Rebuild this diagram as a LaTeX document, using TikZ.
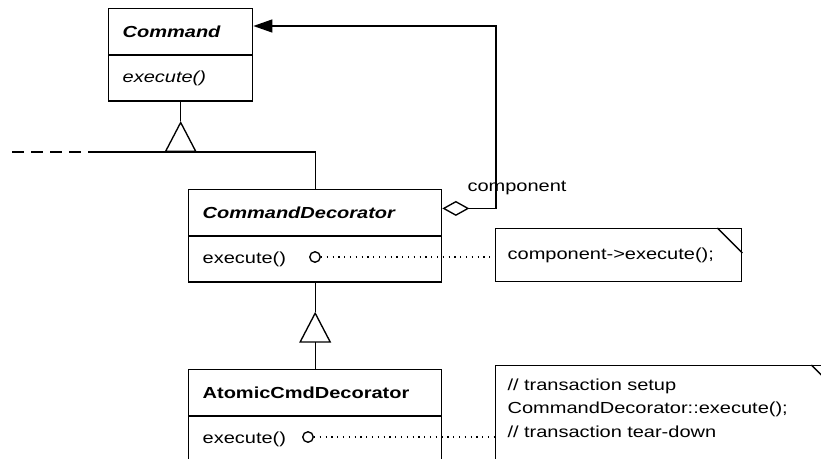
\documentclass[tikz,border=0pt]{standalone}
\usepackage{fontspec}
\setmainfont{Liberation Sans}[FakeStretch=1.25]
\usetikzlibrary{arrows.meta}

\tikzset{
    classpart/.style={draw, inner xsep=14pt, inner ysep=0pt,
        minimum height=45.5pt, text width=#1, align=left},
    notebox/.style={draw, inner xsep=12pt, text width=#1, align=left,
        anchor=north west},
    pin/.style={circle, draw, inner sep=0pt, minimum size=10.5pt},
    inherit/.style={-{Triangle[open, length=31pt, width=32pt]}},
    aggregate/.style={{Diamond[open, length=27pt, width=15pt]}-{Triangle[length=19pt, width=13pt]}},
    annot/.style={line width=1.1pt, dash pattern=on 1.3pt off 4.5pt}
}

\begin{document}
\begin{tikzpicture}[x=1pt, y=-1pt, line width=1.35pt,
    font=\fontsize{16}{23.5}\selectfont]
    % Page frame, whatever runs past it is cut off
    \useasboundingbox (0,0) rectangle (821,458);
    \clip (0,0) rectangle (821,458);

    % Command (abstract)
    \node[classpart=116pt, anchor=north west] (cmdhead) at (108,8) {\textbf{\textit{Command}}};
    \node[classpart=116pt, anchor=north] (cmdbody) at (cmdhead.south) {\textit{execute()}};

    % CommandDecorator (abstract)
    \node[classpart=225pt, anchor=north west] (decohead) at (188,189) {\textbf{\textit{CommandDecorator}}};
    \node[classpart=225pt, anchor=north] (decobody) at (decohead.south) {execute()};

    % AtomicCmdDecorator
    \node[classpart=225pt, anchor=north west] (atomhead) at (188,369) {\textbf{AtomicCmdDecorator}};
    \node[classpart=225pt, anchor=north] (atombody) at (atomhead.south) {execute()};

    % Notes with a folded corner
    \node[notebox=222pt, minimum height=53pt] (note1) at (495,228) {component->execute();};
    \draw ([xshift=-25pt]note1.north east) -- ([yshift=-25pt]note1.north east);

    \node[notebox=316pt, inner ysep=13pt, text depth=80pt] (note2) at (495,365)
        {// transaction setup\\ CommandDecorator::execute();\\ // transaction tear-down};
    \draw ([xshift=-25pt]note2.north east) -- ([yshift=-25pt]note2.north east);

    % CommandDecorator is a Command
    \coordinate (stub) at (88,152);
    \coordinate (loose) at (12,152);
    \coordinate (hub1) at (cmdbody.south |- stub);
    \coordinate (apex1) at ([yshift=31pt]hub1);
    \draw (decohead.north) |- (stub);
    \draw[dash pattern=on 12pt off 7pt] (loose) -- (stub);
    \draw[inherit] (hub1) -- (apex1);
    \draw (apex1) -- (cmdbody.south);

    % AtomicCmdDecorator is a CommandDecorator
    \coordinate (apex2) at ([yshift=-29pt]decobody.south);
    \coordinate (hub2) at ([yshift=-62pt]decobody.south);
    \draw (decobody.south) -- (apex2);
    \draw[inherit] (hub2) -- (apex2);
    \draw (hub2) -- (atomhead.north);

    % component: wrapped Command
    \coordinate (bend) at (496,26);
    \draw[aggregate] ([yshift=4pt]decohead.east) -| (bend) -- (cmdhead.east |- bend);
    \node (rolename) at (517,188) {component};

    % execute() bodies
    \node[pin] (pin1) at (315,257) {};
    \draw[annot] (pin1) -- (note1.west |- pin1);
    \node[pin] (pin2) at (308,437) {};
    \draw[annot] (pin2) -- (note2.west |- pin2);
\end{tikzpicture}
\end{document}
